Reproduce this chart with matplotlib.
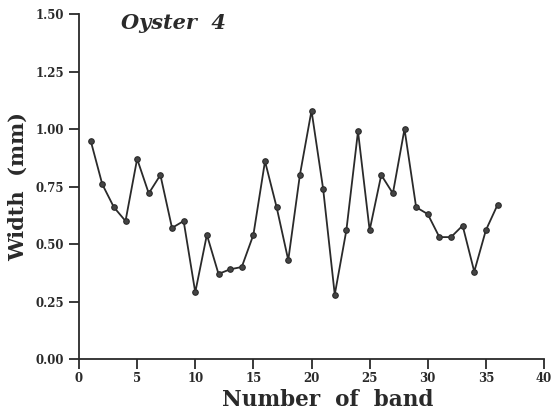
import matplotlib
matplotlib.use("Agg")
import matplotlib.pyplot as plt

# band number vs width (mm)
band = list(range(1, 37))
width = [0.95, 0.76, 0.66, 0.60, 0.87, 0.72, 0.80, 0.57, 0.60, 0.29,
         0.54, 0.37, 0.39, 0.40, 0.54, 0.86, 0.66, 0.43, 0.80, 1.08,
         0.74, 0.28, 0.56, 0.99, 0.56, 0.80, 0.72, 1.00, 0.66, 0.63,
         0.53, 0.53, 0.58, 0.38, 0.56, 0.67]

xticks = [0, 5, 10, 15, 20, 25, 30, 35, 40]
yticks = [0.0, 0.25, 0.5, 0.75, 1.0, 1.25, 1.5]

plt.rcParams['font.family'] = 'DejaVu Serif'
ink = '#2a2a2a'

fig = plt.figure(figsize=(5.51, 4.12), dpi=100)
ax = fig.add_axes([0.1434, 0.1286, 0.8439, 0.8374])

ax.plot(band, width, color=ink, lw=1.3, marker='o', ms=4,
        mfc='#444444', mec=ink, mew=0.8)

ax.set_xlim(0, 40)
ax.set_ylim(0, 1.5)
ax.set_xticks(xticks)
ax.set_yticks(yticks)
ax.set_yticklabels(['%.2f' % v for v in yticks])
for s in ['top', 'right']:
    ax.spines[s].set_visible(False)
for s in ['left', 'bottom']:
    ax.spines[s].set_linewidth(1.3)
    ax.spines[s].set_color(ink)
ax.tick_params(direction='out', length=7, width=1.3, color=ink,
               labelsize=8.5, labelcolor=ink)
ax.tick_params(axis='x', pad=2)
for lab in ax.get_xticklabels() + ax.get_yticklabels():
    lab.set_fontweight('bold')

ax.set_xlabel('Number  of  band', fontsize=15.5, fontweight='bold', color=ink)
ax.xaxis.set_label_coords(0.535, -0.118)
ax.xaxis.label.set_va('center')
ax.set_ylabel('Width  (mm)', fontsize=15, fontweight='bold', color=ink, labelpad=6)
ax.text(0.09, 0.975, 'Oyster  4', transform=ax.transAxes, fontsize=15,
        fontweight='bold', fontstyle='italic', color=ink, va='center')

fig.savefig('out.png', dpi=100)
